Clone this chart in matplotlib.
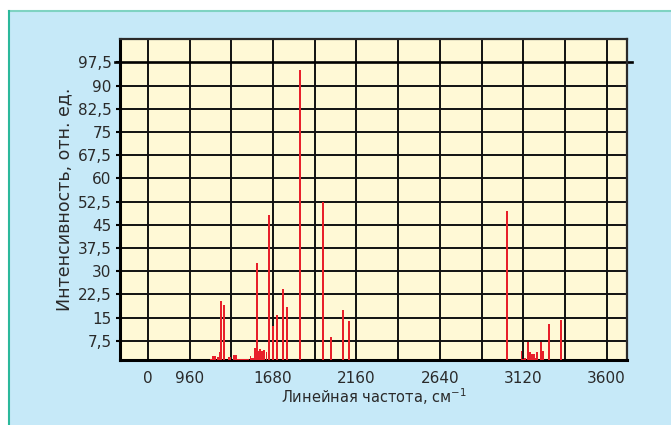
"""
Spectrum bar chart: intensity vs. line frequency.
"""

import matplotlib.pyplot as plt
from matplotlib.patches import Rectangle
from matplotlib.lines import Line2D

# line frequencies (cm^-1) and relative intensities
freqs = [1325, 1334, 1345, 1363, 1374, 1380, 1397, 1426, 1434, 1455, 1466,
         1478, 1490, 1501, 1513, 1524, 1536, 1550, 1561, 1570, 1578, 1585,
         1592, 1604, 1616, 1627, 1642, 1659, 1679, 1702, 1737, 1760, 1835,
         1965, 2011, 2080, 2115, 3024, 3110, 3120, 3132, 3148, 3160, 3170,
         3181, 3193, 3201, 3222, 3233, 3268, 3337]
intens = [1.6, 2.7, 2.7, 2.2, 3.9, 20.4, 19.1, 2.3, 2.3, 3.0, 3.0,
          1.6, 1.6, 1.6, 1.6, 1.6, 1.6, 2.6, 2.0, 1.8, 5.2, 32.7,
          4.2, 4.9, 4.2, 4.6, 3.9, 48.3, 12.3, 15.9, 24.3, 18.5, 95.2,
          52.5, 8.8, 17.5, 14.0, 49.5, 4.2, 1.6, 1.8, 7.0, 4.0, 3.3,
          3.3, 1.8, 4.0, 7.0, 4.2, 13.0, 14.3]

grid_x = [960 + 240 * i for i in range(12)]
xtick_pos = [960, 1200, 1680, 2160, 2640, 3120, 3600]
xtick_labels = ["0", "960", "1680", "2160", "2640", "3120", "3600"]
ytick_pos = [7.5, 15, 22.5, 30, 37.5, 45, 52.5, 60, 67.5, 75, 82.5, 90, 97.5]
ytick_labels = ["7,5", "15", "22,5", "30", "37,5", "45", "52,5", "60",
                "67,5", "75", "82,5", "90", "97,5"]

BG = "#c6e9f8"
PLOT_BG = "#fff9d6"
RED = "#e8202a"

plt.rcParams["font.family"] = ["DejaVu Sans"]

fig = plt.figure(figsize=(6.71, 4.25), dpi=100, facecolor="white")
fig.add_artist(Rectangle((9 / 671, 0), 1, 1 - 11 / 425, transform=fig.transFigure,
                         facecolor=BG, edgecolor="none", zorder=-10))
fig.add_artist(Line2D([9 / 671, 1], [1 - 11 / 425] * 2, transform=fig.transFigure,
                      color="#7fd3c2", lw=1.5, zorder=-5))
fig.add_artist(Line2D([9 / 671] * 2, [0, 1 - 11 / 425], transform=fig.transFigure,
                      color="#2bb89b", lw=1.5, zorder=-5))

ax = fig.add_axes([120 / 671, 1 - 360 / 425, 507 / 671, (360 - 39.3) / 425])
ax.set_facecolor(PLOT_BG)

for gx in grid_x:
    ax.axvline(gx, color="#111111", lw=1.4, zorder=1)
for gy in ytick_pos[:-1]:
    ax.axhline(gy, color="#111111", lw=1.4, zorder=1)
ax.axhline(97.5, xmin=-0.01, xmax=1.01, color="#000000", lw=1.9, zorder=1, clip_on=False)

ax.bar(freqs, intens, width=11, color=RED, zorder=3)

ax.set_xlim(799, 3717)
ax.set_ylim(1.3, 105)

ax.set_xticks(xtick_pos)
ax.set_xticklabels(xtick_labels)
ax.set_yticks(ytick_pos)
ax.set_yticklabels(ytick_labels)
ax.tick_params(axis="x", length=0, pad=8, labelsize=11, labelcolor="#2a2a2a")
ax.tick_params(axis="y", length=3, width=1.5, pad=3, labelsize=11, labelcolor="#2a2a2a")

for side in ["left", "bottom"]:
    ax.spines[side].set_linewidth(2.2)
    ax.spines[side].set_color("black")
for side in ["top", "right"]:
    ax.spines[side].set_linewidth(1.6)
    ax.spines[side].set_color("#2a2a2a")

ax.set_ylabel("Интенсивность, отн. ед.", fontsize=12.5, color="#2a2a2a", labelpad=3)
ax.set_xlabel("Линейная частота, см$^{-1}$", fontsize=10.5, color="#2a2a2a", labelpad=0)

fig.savefig("out.png", dpi=100, facecolor=fig.get_facecolor())
